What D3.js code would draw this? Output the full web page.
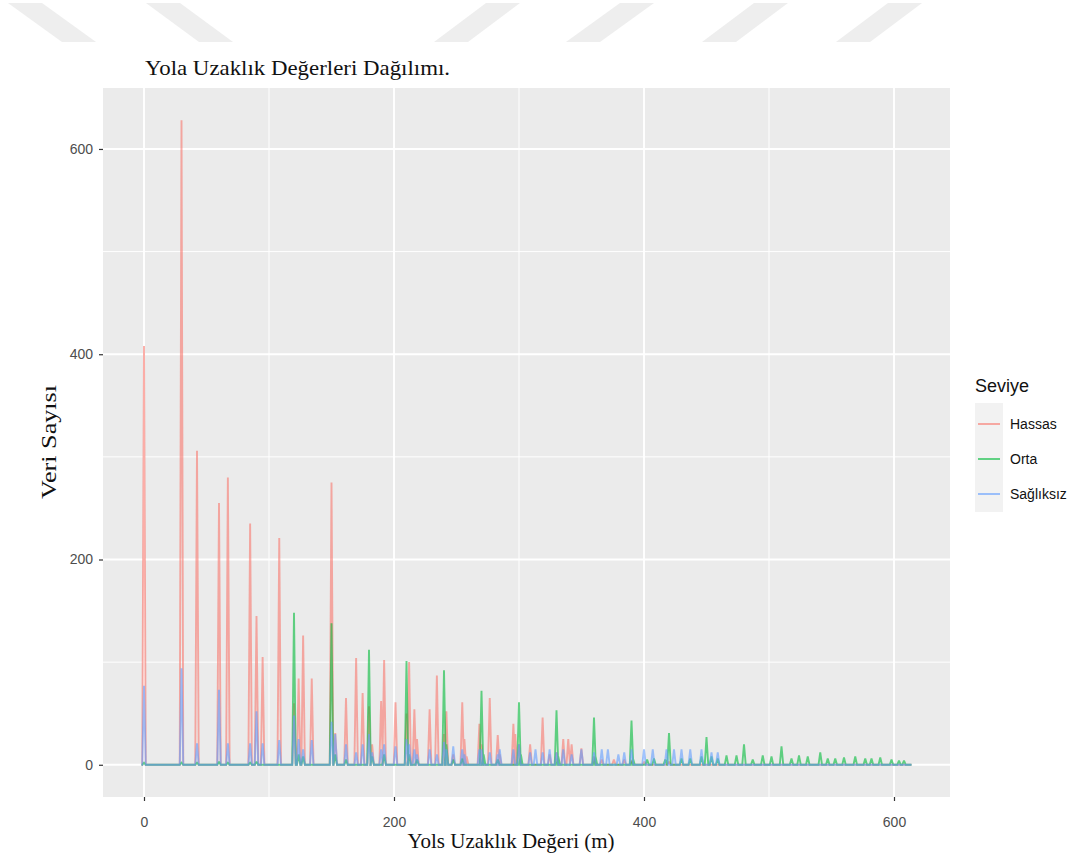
<!DOCTYPE html>
<html>
<head>
<meta charset="utf-8">
<script src="https://cdn.jsdelivr.net/npm/d3@7"></script>
<style>
  body { margin: 0; background: #ffffff; }
</style>
</head>
<body>
<svg id="chart" width="1077" height="857"></svg>
<script>
// ---- data: frequency of distance-to-road values (m), one polygon per level ----
const levels = ["Hassas", "Orta", "Sağlıksız"];
const levelColors = ["#F8766D", "#00BA38", "#619CFF"];

// [distance (m), count]
const hassasCounts = [
  [0, 408], [30, 628], [42.4, 306], [60, 255], [67.1, 280], [84.9, 235], [90, 145],
  [94.9, 105], [108.2, 221], [120, 60], [123.7, 84], [127.3, 126], [134.2, 84],
  [150, 275], [153, 31], [161.6, 65], [169.7, 104], [174.9, 70], [180, 57], [182.5, 20],
  [189.7, 62], [192.1, 102], [201.2, 61], [210, 50], [212.1, 100], [216.3, 54],
  [218.4, 25], [228.5, 54], [234.3, 87], [240, 30], [241.9, 52], [247.4, 10],
  [254.6, 61], [256.3, 25], [258.1, 8], [268.3, 40], [270, 20], [276.6, 65], [283, 29],
  [284.6, 10], [295.5, 40], [297, 30], [300, 20], [308.9, 20], [318.9, 46], [324.5, 10],
  [330, 12], [335.4, 25], [339.4, 25], [342.1, 20], [349.9, 16], [360, 8], [366.2, 5],
  [375.9, 5], [384.2, 5], [390, 4], [400.2, 3], [420, 3]
];
const ortaCounts = [
  [0, 2], [30, 2], [42.4, 2], [60, 3], [67.1, 2], [84.9, 2], [90, 3], [120, 148],
  [123.7, 10], [127.3, 8], [150, 138], [153, 10], [161.6, 5], [180, 112], [182.5, 8],
  [192.1, 10], [210, 101], [212.1, 10], [218.4, 5], [240, 92], [241.9, 20], [247.4, 5],
  [254.6, 6], [270, 72], [271.7, 10], [283, 5], [300, 61], [301.5, 10], [330, 53],
  [331.4, 8], [360, 46], [361.2, 8], [390, 43], [391.2, 6], [402.5, 5], [408, 6],
  [417, 5], [420, 31], [430, 6], [437, 6], [446, 8], [450, 27], [454, 8], [459, 6],
  [466, 9], [474, 9], [480, 20], [487, 5], [495, 9], [502, 8], [510, 18], [518, 6],
  [524, 9], [531, 8], [541, 12], [547, 6], [553, 6], [560, 7], [569, 8], [577, 6],
  [582, 6], [589, 7], [598, 5], [604, 4], [608, 4]
];
const saglikCounts = [
  [0, 77], [30, 94], [42.4, 21], [60, 73], [67.1, 21], [84.9, 21], [90, 52], [94.9, 21],
  [108.2, 24], [120, 48], [123.7, 25], [127.3, 15], [134.2, 24], [150, 42], [153, 30],
  [161.6, 20], [169.7, 12], [174.9, 20], [180, 30], [182.5, 12], [189.7, 15], [192.1, 20],
  [201.2, 18], [210, 25], [212.1, 20], [216.3, 15], [218.4, 10], [228.5, 15], [234.3, 10],
  [240, 22], [241.9, 15], [247.4, 18], [254.6, 15], [256.3, 10], [268.3, 15], [270, 15],
  [276.6, 12], [283, 10], [284.6, 15], [295.5, 15], [300, 20], [308.9, 12], [313.2, 15],
  [318.9, 12], [324.5, 15], [330, 12], [335.4, 15], [342.1, 10], [349.9, 15], [360, 12],
  [366.2, 15], [371.1, 15], [379.5, 10], [384.2, 12], [390, 15], [400, 15], [407, 15],
  [418, 15], [424, 15], [430, 15], [437, 15], [446, 15], [454, 12], [459, 12]
];
const seriesCounts = [hassasCounts, ortaCounts, saglikCounts];

const distanceExtent = [-2, 614];  // outer ends of the polygons (m)
const binHalf = 1.4;               // half bin width (m)

const xTicks = [0, 200, 400, 600];
const xMinor = [100, 300, 500];
const yTicks = [0, 200, 400, 600];
const yMinor = [100, 300, 500];

const titleText = "Yola Uzaklık Değerleri Dağılımı.";
const xTitle = "Yols Uzaklık Değeri (m)";
const yTitle = "Veri Sayısı";
const legendTitle = "Seviye";

// ---- layout ----
const svg = d3.select("#chart");
const panel = { left: 103, top: 88, right: 950, bottom: 797 };

const maxCount = d3.max(seriesCounts.flat(), d => d[1]);
const xPad = (distanceExtent[1] - distanceExtent[0]) * 0.05;
const yPad = maxCount * 0.05;

const x = d3.scaleLinear()
  .domain([distanceExtent[0] - xPad, distanceExtent[1] + xPad])
  .range([panel.left, panel.right]);
const y = d3.scaleLinear()
  .domain([-yPad, maxCount + yPad])
  .range([panel.bottom, panel.top]);

// faint stripes across the top of the page
const stripes = [
  [[8, 3], [42, 3], [96, 42], [62, 42]],
  [[146, 3], [180, 3], [233, 42], [199, 42]],
  [[486, 3], [520, 3], [468, 42], [434, 42]],
  [[620, 3], [654, 3], [600, 42], [566, 42]],
  [[754, 3], [788, 3], [736, 42], [702, 42]],
  [[888, 3], [922, 3], [870, 42], [836, 42]]
];
svg.append("g").selectAll("polygon").data(stripes).join("polygon")
  .attr("points", d => d.map(p => p.join(",")).join(" "))
  .attr("fill", "#eeeeee");

// panel background
svg.append("rect")
  .attr("x", panel.left).attr("y", panel.top)
  .attr("width", panel.right - panel.left).attr("height", panel.bottom - panel.top)
  .attr("fill", "#EBEBEB");

const grid = svg.append("g");
grid.selectAll(".xminor").data(xMinor).join("line")
  .attr("x1", d => x(d)).attr("x2", d => x(d))
  .attr("y1", panel.top).attr("y2", panel.bottom)
  .attr("stroke", "#fff").attr("stroke-width", 1);
grid.selectAll(".yminor").data(yMinor).join("line")
  .attr("y1", d => y(d)).attr("y2", d => y(d))
  .attr("x1", panel.left).attr("x2", panel.right)
  .attr("stroke", "#fff").attr("stroke-width", 1);
grid.selectAll(".xmajor").data(xTicks).join("line")
  .attr("x1", d => x(d)).attr("x2", d => x(d))
  .attr("y1", panel.top).attr("y2", panel.bottom)
  .attr("stroke", "#fff").attr("stroke-width", 1.9);
grid.selectAll(".ymajor").data(yTicks).join("line")
  .attr("y1", d => y(d)).attr("y2", d => y(d))
  .attr("x1", panel.left).attr("x2", panel.right)
  .attr("stroke", "#fff").attr("stroke-width", 1.9);

// frequency polygons: each bin rises from and returns to zero
function polygonPoints(counts) {
  const sorted = counts.slice().sort((a, b) => a[0] - b[0]);
  const pts = [[distanceExtent[0], 0]];
  sorted.forEach(([d, c]) => {
    pts.push([d - binHalf, 0], [d, c], [d + binHalf, 0]);
  });
  pts.push([distanceExtent[1], 0]);
  return pts;
}
const line = d3.line().x(d => x(d[0])).y(d => y(d[1]));

const lines = svg.append("g");
seriesCounts.forEach((counts, i) => {
  lines.append("path")
    .attr("d", line(polygonPoints(counts)))
    .attr("fill", "none")
    .attr("stroke", levelColors[i])
    .attr("stroke-opacity", 0.6)
    .attr("stroke-width", 1.9)
    .attr("stroke-linejoin", "miter")
    .attr("stroke-miterlimit", 2);
});

// axes
const axisColor = "#4D4D4D";
const xAxis = svg.append("g")
  .attr("transform", `translate(0,${panel.bottom})`)
  .call(d3.axisBottom(x).tickValues(xTicks).tickSize(4).tickPadding(16).tickFormat(d3.format("d")));
const yAxis = svg.append("g")
  .attr("transform", `translate(${panel.left},0)`)
  .call(d3.axisLeft(y).tickValues(yTicks).tickSize(4).tickPadding(6).tickFormat(d3.format("d")));
[xAxis, yAxis].forEach(a => {
  a.select(".domain").remove();
  a.selectAll(".tick line").attr("stroke", "#333").attr("stroke-width", 1.2);
  a.selectAll(".tick text")
    .attr("fill", axisColor)
    .style("font-family", "'Liberation Sans', Arial, sans-serif")
    .style("font-size", "14px");
});

// titles
svg.append("text")
  .attr("x", 145).attr("y", 75)
  .attr("textLength", 305).attr("lengthAdjust", "spacingAndGlyphs")
  .style("font-family", "'Liberation Serif', 'Times New Roman', serif")
  .style("font-size", "22px")
  .attr("fill", "#111")
  .text(titleText);

svg.append("text")
  .attr("x", 511).attr("y", 848)
  .attr("text-anchor", "middle")
  .attr("textLength", 207).attr("lengthAdjust", "spacingAndGlyphs")
  .style("font-family", "'Liberation Serif', 'Times New Roman', serif")
  .style("font-size", "21px")
  .attr("fill", "#111")
  .text(xTitle);

svg.append("text")
  .attr("transform", `translate(56,442) rotate(-90)`)
  .attr("text-anchor", "middle")
  .attr("textLength", 114).attr("lengthAdjust", "spacingAndGlyphs")
  .style("font-family", "'Liberation Serif', 'Times New Roman', serif")
  .style("font-size", "21px")
  .attr("fill", "#111")
  .text(yTitle);

// legend
const legend = svg.append("g").attr("transform", "translate(975,0)");
legend.append("text")
  .attr("x", 0).attr("y", 392)
  .style("font-family", "'Liberation Sans', Arial, sans-serif")
  .style("font-size", "18px")
  .attr("fill", "#111")
  .text(legendTitle);
legend.append("rect")
  .attr("x", 0).attr("y", 403).attr("width", 28).attr("height", 109)
  .attr("fill", "#F2F2F2");
const keyY = d3.scalePoint().domain(levels).range([424, 494]);
levels.forEach((name, i) => {
  legend.append("line")
    .attr("x1", 3).attr("x2", 25)
    .attr("y1", keyY(name)).attr("y2", keyY(name))
    .attr("stroke", levelColors[i]).attr("stroke-opacity", 0.6).attr("stroke-width", 2);
  legend.append("text")
    .attr("x", 35).attr("y", keyY(name) + 5)
    .style("font-family", "'Liberation Sans', Arial, sans-serif")
    .style("font-size", "14px")
    .attr("fill", "#111")
    .text(name);
});
</script>
</body>
</html>
